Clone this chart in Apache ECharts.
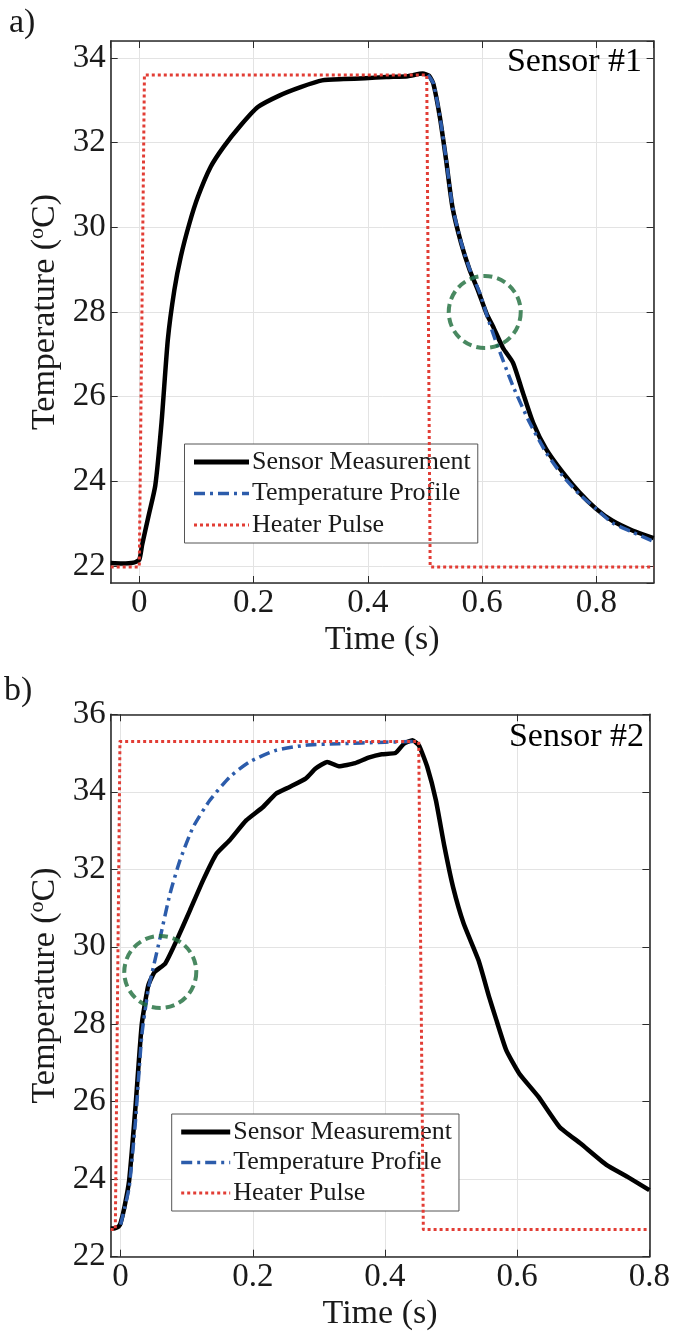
<!DOCTYPE html>
<html>
<head>
<meta charset="utf-8">
<script src="https://cdn.jsdelivr.net/npm/echarts@6/dist/echarts.min.js"></script>
<style>
  html, body { margin: 0; padding: 0; background: #fff; }
  #chart { width: 673px; height: 1333px; }
</style>
</head>
<body>
<div id="chart"></div>
<script>
// ---------- Data (Time [s], Temperature [°C]) ----------
const sensor1 = [[-0.05,22.07],[-0.03,22.06],[-0.01,22.08],[0.0,22.15],[0.005,22.5],[0.0165,23.2],[0.028,23.9],[0.039,25.4],[0.05,27.35],[0.0614,28.52],[0.0727,29.31],[0.0877,30.09],[0.1026,30.72],[0.125,31.43],[0.1476,31.9],[0.1776,32.41],[0.2075,32.84],[0.245,33.11],[0.2824,33.31],[0.32,33.47],[0.357,33.5],[0.395,33.52],[0.432,33.55],[0.47,33.57],[0.496,33.63],[0.507,33.58],[0.5146,33.39],[0.526,32.6],[0.537,31.58],[0.548,30.48],[0.5633,29.62],[0.578,29.0],[0.593,28.5],[0.608,27.95],[0.619,27.66],[0.6365,27.15],[0.654,26.8],[0.6714,26.09],[0.689,25.39],[0.712,24.76],[0.741,24.21],[0.77,23.74],[0.7995,23.35],[0.828,23.07],[0.863,22.84],[0.9,22.66]];
const profile1 = [[0.505,33.6],[0.5146,33.4],[0.526,32.62],[0.537,31.6],[0.548,30.5],[0.5633,29.64],[0.578,29.02],[0.5958,28.45],[0.61,27.85],[0.625,27.27],[0.654,26.25],[0.683,25.39],[0.712,24.68],[0.741,24.13],[0.77,23.7],[0.7995,23.35],[0.828,23.02],[0.863,22.8],[0.9,22.58]];
const heater1 = [[-0.05,21.98],[0.0,21.98],[0.009,33.6],[0.503,33.6],[0.509,21.98],[0.9,21.98]];
const highlight1 = [[0.6045,28.0]];

const sensor2 = [[-0.015,22.73],[-0.01,22.73],[-0.003,22.78],[0.0,22.87],[0.006,23.3],[0.013,23.98],[0.0225,25.87],[0.032,28.0],[0.0418,29.0],[0.0516,29.35],[0.0676,29.57],[0.0849,30.17],[0.1049,30.94],[0.1249,31.72],[0.145,32.4],[0.165,32.75],[0.19,33.26],[0.215,33.6],[0.235,33.95],[0.255,34.12],[0.28,34.34],[0.295,34.6],[0.3126,34.77],[0.33,34.66],[0.355,34.74],[0.375,34.88],[0.395,34.97],[0.4158,35.0],[0.4287,35.24],[0.4416,35.33],[0.4513,35.2],[0.464,34.64],[0.477,33.78],[0.49,32.58],[0.503,31.54],[0.519,30.6],[0.5415,29.65],[0.5576,28.7],[0.567,28.19],[0.5834,27.33],[0.603,26.73],[0.632,26.13],[0.664,25.35],[0.696,24.92],[0.735,24.37],[0.767,24.06],[0.8,23.72]];
const profile2 = [[0.0,22.83],[0.006,23.25],[0.013,23.8],[0.0225,25.5],[0.032,27.7],[0.0418,28.9],[0.0473,29.31],[0.06,30.25],[0.0748,31.37],[0.0898,32.23],[0.1098,33.09],[0.135,33.78],[0.165,34.38],[0.195,34.77],[0.235,35.07],[0.28,35.2],[0.33,35.24],[0.40,35.28],[0.445,35.3]];
const heater2 = [[-0.015,22.7],[-0.008,22.7],[-0.001,35.3],[0.451,35.3],[0.458,22.7],[0.8,22.7]];
const highlight2 = [[0.06,29.35]];

const seriesNames = ['Sensor Measurement', 'Temperature Profile', 'Heater Pulse'];
const panelLabels = ['a)', 'b)'];
const sensorLabels = ['Sensor #1', 'Sensor #2'];
const xNameText = 'Time (s)';
const yNameText = '{t|Temperature (}{s|o}{t|C)}';

// ---------- Styles ----------
const FONT = "'Liberation Serif', 'Times New Roman', serif";
const TXT = '#1a1a1a';
const AX = '#2b2b2b';
const GRIDC = '#e3e3e3';
const BLACK = '#000000', BLUE = '#2c5cab', RED = '#e23d35', GREEN = '#1b6b3a';
const DASHDOT = [11, 5, 3, 5];
const DOTS = [3, 3];

const chart = echarts.init(document.getElementById('chart'), null, { renderer: 'canvas' });

function xAxisPair(gi, min, max, split, showMax) {
  return [{
    type: 'value', gridIndex: gi, min: min, max: max, splitNumber: split,
    position: 'bottom',
    name: xNameText, nameLocation: 'middle', nameGap: 40,
    nameTextStyle: { fontFamily: FONT, fontSize: 34, color: TXT },
    axisLine: { show: true, onZero: false, lineStyle: { color: AX, width: 1.6 } },
    axisTick: { show: true, inside: true, length: 7, lineStyle: { color: AX, width: 1 } },
    axisLabel: { fontFamily: FONT, fontSize: 33, color: TXT, margin: 4,
      showMinLabel: false, showMaxLabel: showMax,
      formatter: v => (Math.abs(v) < 1e-9 ? '0' : String(+v.toFixed(2))) },
    splitLine: { show: true, lineStyle: { color: GRIDC, width: 1 } }
  }, {
    type: 'value', gridIndex: gi, min: min, max: max, splitNumber: split,
    position: 'top',
    axisLine: { show: true, onZero: false, lineStyle: { color: AX, width: 1.6 } },
    axisTick: { show: true, inside: true, length: 7, lineStyle: { color: AX, width: 1 } },
    axisLabel: { show: false }, splitLine: { show: false }
  }];
}
function yAxisPair(gi, min, max, split, showEnds) {
  return [{
    type: 'value', gridIndex: gi, min: min, max: max, splitNumber: split,
    position: 'left',
    name: yNameText, nameLocation: 'middle', nameGap: 48,
    nameTextStyle: { fontFamily: FONT, fontSize: 34, color: TXT,
      rich: { t: { fontFamily: FONT, fontSize: 34, color: TXT, lineHeight: 36 },
              s: { fontFamily: FONT, fontSize: 22, color: TXT, verticalAlign: 'top', lineHeight: 22 } } },
    axisLine: { show: true, onZero: false, lineStyle: { color: AX, width: 1.6 } },
    axisTick: { show: true, inside: true, length: 7, lineStyle: { color: AX, width: 1 } },
    axisLabel: { fontFamily: FONT, fontSize: 33, color: TXT, margin: 5,
      showMinLabel: showEnds, showMaxLabel: showEnds,
      formatter: v => String(Math.round(v)) },
    splitLine: { show: true, lineStyle: { color: GRIDC, width: 1 } }
  }, {
    type: 'value', gridIndex: gi, min: min, max: max, splitNumber: split,
    position: 'right',
    axisLine: { show: true, onZero: false, lineStyle: { color: AX, width: 1.6 } },
    axisTick: { show: true, inside: true, length: 7, lineStyle: { color: AX, width: 1 } },
    axisLabel: { show: false }, splitLine: { show: false }
  }];
}

function lineSeries(name, data, xi, yi, color, width, type, z, smooth) {
  return {
    name: name, type: 'line', xAxisIndex: xi, yAxisIndex: yi, data: data,
    symbol: 'none', showSymbol: false, smooth: smooth, z: z, animation: false,
    lineStyle: { color: color, width: width, type: type, cap: 'butt', join: 'round' },
    itemStyle: { color: color }
  };
}
function circleSeries(data, xi, yi) {
  return {
    type: 'scatter', xAxisIndex: xi, yAxisIndex: yi, data: data, z: 20,
    symbol: 'circle', symbolSize: 72, silent: true, animation: false,
    itemStyle: { color: 'rgba(0,0,0,0)', borderColor: GREEN, borderWidth: 4, borderType: [9, 5] }
  };
}

const legendData = [
  { name: seriesNames[0], lineStyle: { color: BLACK, width: 5, type: 'solid' }, itemStyle: { opacity: 0 } },
  { name: seriesNames[1], lineStyle: { color: BLUE, width: 3.5, type: DASHDOT }, itemStyle: { opacity: 0 } },
  { name: seriesNames[2], lineStyle: { color: RED, width: 3, type: DOTS }, itemStyle: { opacity: 0 } }
];
function legendAt(left, top, w, gap) {
  return { data: legendData, orient: 'vertical', left: left, top: top,
    itemWidth: w, itemHeight: 2, itemGap: gap, padding: [5, 7, 5, 7],
    itemStyle: { opacity: 0 },
    backgroundColor: '#fff', borderColor: '#555', borderWidth: 1, borderRadius: 0,
    textStyle: { fontFamily: FONT, fontSize: 26, color: TXT, padding: [0, 0, 0, -2], lineHeight: 26 },
    selectedMode: false };
}

const option = {
  backgroundColor: '#ffffff',
  animation: false,
  grid: [
    { left: 110.7, right: 19.4, top: 41, height: 542, containLabel: false },
    { left: 110.7, right: 20.2, top: 714.3, height: 542.4, containLabel: false }
  ],
  xAxis: [...xAxisPair(0, -0.05, 0.9, 5, false), ...xAxisPair(1, -0.015, 0.8, 4, true)],
  yAxis: [...yAxisPair(0, 21.6, 34.4, 6, false), ...yAxisPair(1, 22, 36, 7, true)],
  legend: [ legendAt(184.5, 444, 55, 5.5), legendAt(171.7, 1114, 49, 4.5) ],
  graphic: [
    { type: 'text', left: 9, top: 6, style: { text: panelLabels[0], font: '34px ' + FONT, fill: TXT } },
    { type: 'text', left: 4, top: 674, style: { text: panelLabels[1], font: '34px ' + FONT, fill: TXT } },
    { type: 'text', right: 31, top: 45, z: 30, style: { text: sensorLabels[0], font: '34px ' + FONT, fill: '#000' } },
    { type: 'text', right: 29, top: 720, z: 30, style: { text: sensorLabels[1], font: '34px ' + FONT, fill: '#000' } }
  ],
  series: [
    lineSeries(seriesNames[0], sensor1, 0, 0, BLACK, 4.5, 'solid', 3, 0.2),
    lineSeries(seriesNames[1], profile1, 0, 0, BLUE, 3.5, DASHDOT, 4, 0.2),
    lineSeries(seriesNames[2], heater1, 0, 0, RED, 3, DOTS, 5, false),
    circleSeries(highlight1, 0, 0),
    lineSeries(seriesNames[0], sensor2, 2, 2, BLACK, 4.5, 'solid', 3, 0.15),
    lineSeries(seriesNames[1], profile2, 2, 2, BLUE, 3.5, DASHDOT, 4, 0.2),
    lineSeries(seriesNames[2], heater2, 2, 2, RED, 3, DOTS, 5, false),
    circleSeries(highlight2, 2, 2)
  ]
};
chart.setOption(option);
</script>
</body>
</html>
